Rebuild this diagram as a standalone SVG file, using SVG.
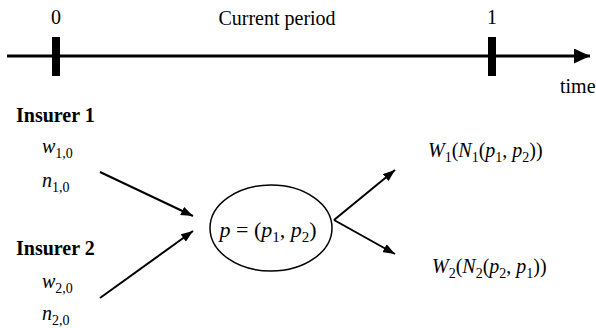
<svg xmlns="http://www.w3.org/2000/svg" width="596" height="328" viewBox="0 0 596 328" font-family="Liberation Serif, Times New Roman, DejaVu Serif, serif">
<style>
text{font-family:"Liberation Serif","Times New Roman",Times,"DejaVu Serif",serif;font-size:20px;fill:#000}
.b{font-weight:bold}
.i{font-style:italic}
.s{font-size:14px}
.c{fill:none;stroke:#000;stroke-width:2}
</style>
<defs>
<marker id="ah" viewBox="0 0 12 9" refX="12" refY="4.5" markerWidth="12" markerHeight="9" orient="auto" markerUnits="userSpaceOnUse"><path d="M0,0 L12,4.5 L0,9 z" fill="#000"/></marker>
<marker id="ahb" viewBox="0 0 16 15" refX="16" refY="7.5" markerWidth="16" markerHeight="15" orient="auto" markerUnits="userSpaceOnUse"><path d="M0,0 L16,7.5 L0,15 z" fill="#000"/></marker>
</defs>
<rect width="596" height="328" fill="#fff"/>
<g id="timeline">
<line x1="7" y1="56" x2="590" y2="56" stroke="#000" stroke-width="3" marker-end="url(#ahb)"/>
<rect x="52" y="37" width="8" height="39" fill="#000"/>
<rect x="488" y="37" width="8" height="39" fill="#000"/>
<text x="56" y="24" text-anchor="middle">0</text>
<text x="277" y="25" text-anchor="middle">Current period</text>
<text x="492" y="24" text-anchor="middle">1</text>
<text x="560" y="93">time</text>
</g>
<g id="insurer1">
<text class="b" x="16" y="122">Insurer 1</text>
<text x="42" y="153"><tspan class="i">w</tspan><tspan class="s" dy="5">1,0</tspan></text>
<text x="42" y="187"><tspan class="i">n</tspan><tspan class="s" dy="5">1,0</tspan></text>
</g>
<g id="insurer2">
<text class="b" x="16" y="255">Insurer 2</text>
<text x="42" y="288"><tspan class="i">w</tspan><tspan class="s" dy="5">2,0</tspan></text>
<text x="42" y="320"><tspan class="i">n</tspan><tspan class="s" dy="5">2,0</tspan></text>
</g>
<g id="price">
<ellipse cx="271" cy="228" rx="61" ry="43" fill="none" stroke="#000" stroke-width="1.5"/>
<text x="268" y="237" text-anchor="middle" font-size="22" style="font-size:22px"><tspan class="i">p</tspan> = (<tspan class="i">p</tspan><tspan class="s" dy="5" style="font-size:15px">1</tspan><tspan dy="-5">, </tspan><tspan class="i">p</tspan><tspan class="s" dy="5" style="font-size:15px">2</tspan><tspan dy="-5">)</tspan></text>
</g>
<g id="outcome1">
<text x="428" y="157"><tspan class="i">W</tspan><tspan class="s" dy="5">1</tspan><tspan dy="-5">(</tspan><tspan class="i">N</tspan><tspan class="s" dy="5">1</tspan><tspan dy="-5">(</tspan><tspan class="i">p</tspan><tspan class="s" dy="5">1</tspan><tspan dy="-5">, </tspan><tspan class="i">p</tspan><tspan class="s" dy="5">2</tspan><tspan dy="-5">))</tspan></text>
</g>
<g id="outcome2">
<text x="432" y="273"><tspan class="i">W</tspan><tspan class="s" dy="5">2</tspan><tspan dy="-5">(</tspan><tspan class="i">N</tspan><tspan class="s" dy="5">2</tspan><tspan dy="-5">(</tspan><tspan class="i">p</tspan><tspan class="s" dy="5">2</tspan><tspan dy="-5">, </tspan><tspan class="i">p</tspan><tspan class="s" dy="5">1</tspan><tspan dy="-5">))</tspan></text>
</g>
<g id="connectors">
<line class="c" x1="100" y1="172" x2="193" y2="216" marker-end="url(#ah)"/>
<line class="c" x1="100" y1="298" x2="193" y2="231" marker-end="url(#ah)"/>
<line class="c" x1="334" y1="220" x2="395" y2="170" marker-end="url(#ah)"/>
<line class="c" x1="334" y1="220" x2="395" y2="254" marker-end="url(#ah)"/>
</g>
</svg>
